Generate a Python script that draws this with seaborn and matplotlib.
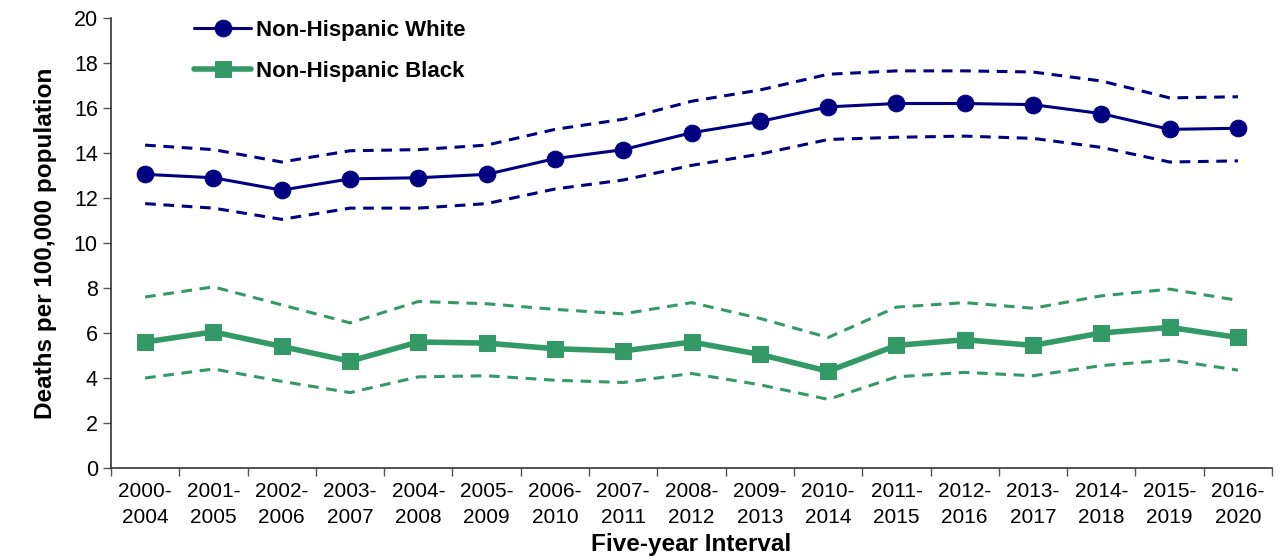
import numpy as np
import pandas as pd
import matplotlib
matplotlib.use("Agg")
import matplotlib.pyplot as plt
import seaborn as sns

# データ
intervals = ["2000-\n2004", "2001-\n2005", "2002-\n2006", "2003-\n2007", "2004-\n2008",
             "2005-\n2009", "2006-\n2010", "2007-\n2011", "2008-\n2012", "2009-\n2013",
             "2010-\n2014", "2011-\n2015", "2012-\n2016", "2013-\n2017", "2014-\n2018",
             "2015-\n2019", "2016-\n2020"]
white = [13.05, 12.9, 12.35, 12.85, 12.9, 13.05, 13.75, 14.15, 14.9, 15.4,
         16.05, 16.2, 16.2, 16.15, 15.75, 15.05, 15.1]
white_hi = [14.35, 14.15, 13.6, 14.1, 14.15, 14.35, 15.05, 15.5, 16.3, 16.8,
            17.5, 17.65, 17.65, 17.6, 17.2, 16.45, 16.5]
white_lo = [11.75, 11.55, 11.05, 11.55, 11.55, 11.75, 12.4, 12.8, 13.45, 13.95,
            14.6, 14.7, 14.75, 14.65, 14.25, 13.6, 13.65]
black = [5.6, 6.05, 5.4, 4.75, 5.6, 5.55, 5.3, 5.2, 5.6, 5.05,
         4.3, 5.45, 5.7, 5.45, 6.0, 6.25, 5.8]
black_hi = [7.6, 8.05, 7.25, 6.45, 7.4, 7.3, 7.05, 6.85, 7.35, 6.65,
            5.8, 7.15, 7.35, 7.1, 7.65, 7.95, 7.45]
black_lo = [4.0, 4.4, 3.85, 3.35, 4.05, 4.1, 3.9, 3.8, 4.2, 3.7,
            3.05, 4.05, 4.25, 4.1, 4.55, 4.8, 4.35]

NAVY = "#000080"
GREEN = "#339966"

sns.set_theme(style="white")
plt.rcParams["font.family"] = ["Liberation Sans", "DejaVu Sans"]
plt.rcParams["text.color"] = "black"
plt.rcParams["axes.labelcolor"] = "black"
plt.rcParams["xtick.color"] = "black"
plt.rcParams["ytick.color"] = "black"

x = np.arange(len(intervals))
df = pd.DataFrame({"x": x, "white": white, "white_hi": white_hi, "white_lo": white_lo,
                   "black": black, "black_hi": black_hi, "black_lo": black_lo})

fig = plt.figure(figsize=(12.83, 5.59), dpi=100)
ax = fig.add_axes([0.0865, 0.1628, 0.905, 0.805])

# 信頼区間（破線）
for col, c in [("white_hi", NAVY), ("white_lo", NAVY),
               ("black_hi", GREEN), ("black_lo", GREEN)]:
    sns.lineplot(data=df, x="x", y=col, ax=ax, color=c, lw=2.2,
                 linestyle=(0, (3.5, 2.5)), legend=False)

sns.lineplot(data=df, x="x", y="white", ax=ax, color=NAVY, lw=2.2,
             marker="o", markersize=12, markeredgecolor=NAVY,
             label="Non-Hispanic White")
sns.lineplot(data=df, x="x", y="black", ax=ax, color=GREEN, lw=4,
             marker="s", markersize=12, markeredgecolor=GREEN,
             label="Non-Hispanic Black")

ax.set_xlim(-0.5, len(intervals) - 0.5)
ax.set_ylim(0, 20)
ax.set_yticks(np.arange(0, 21, 2))
ax.set_xticks(np.arange(-0.5, len(intervals), 1.0))
ax.set_xticklabels([])
ax.set_xticks(x, minor=True)
ax.set_xticklabels(intervals, minor=True, fontsize=15, linespacing=1.5)
ax.tick_params(axis="x", which="minor", length=0, pad=10)
ax.tick_params(axis="x", which="major", direction="out", length=6, width=1, color="#555555")
ax.tick_params(axis="y", direction="out", length=6, width=1, color="#555555", labelsize=15.5)
ax.tick_params(bottom=True, left=True)

for s in ["top", "right"]:
    ax.spines[s].set_visible(False)
for s in ["left", "bottom"]:
    ax.spines[s].set_color("#333333")
    ax.spines[s].set_linewidth(1.2)

ax.set_xlabel("Five-year Interval", fontsize=17.5, fontweight="bold", labelpad=4)
ax.set_ylabel("Deaths per 100,000 population", fontsize=17.5, fontweight="bold", labelpad=12)

leg = ax.legend(loc="upper left", bbox_to_anchor=(0.054, 1.04), frameon=False,
                prop={"weight": "bold", "size": 16}, handlelength=2.6,
                handletextpad=0.2, labelspacing=0.9)

fig.savefig("out.png", dpi=100)
